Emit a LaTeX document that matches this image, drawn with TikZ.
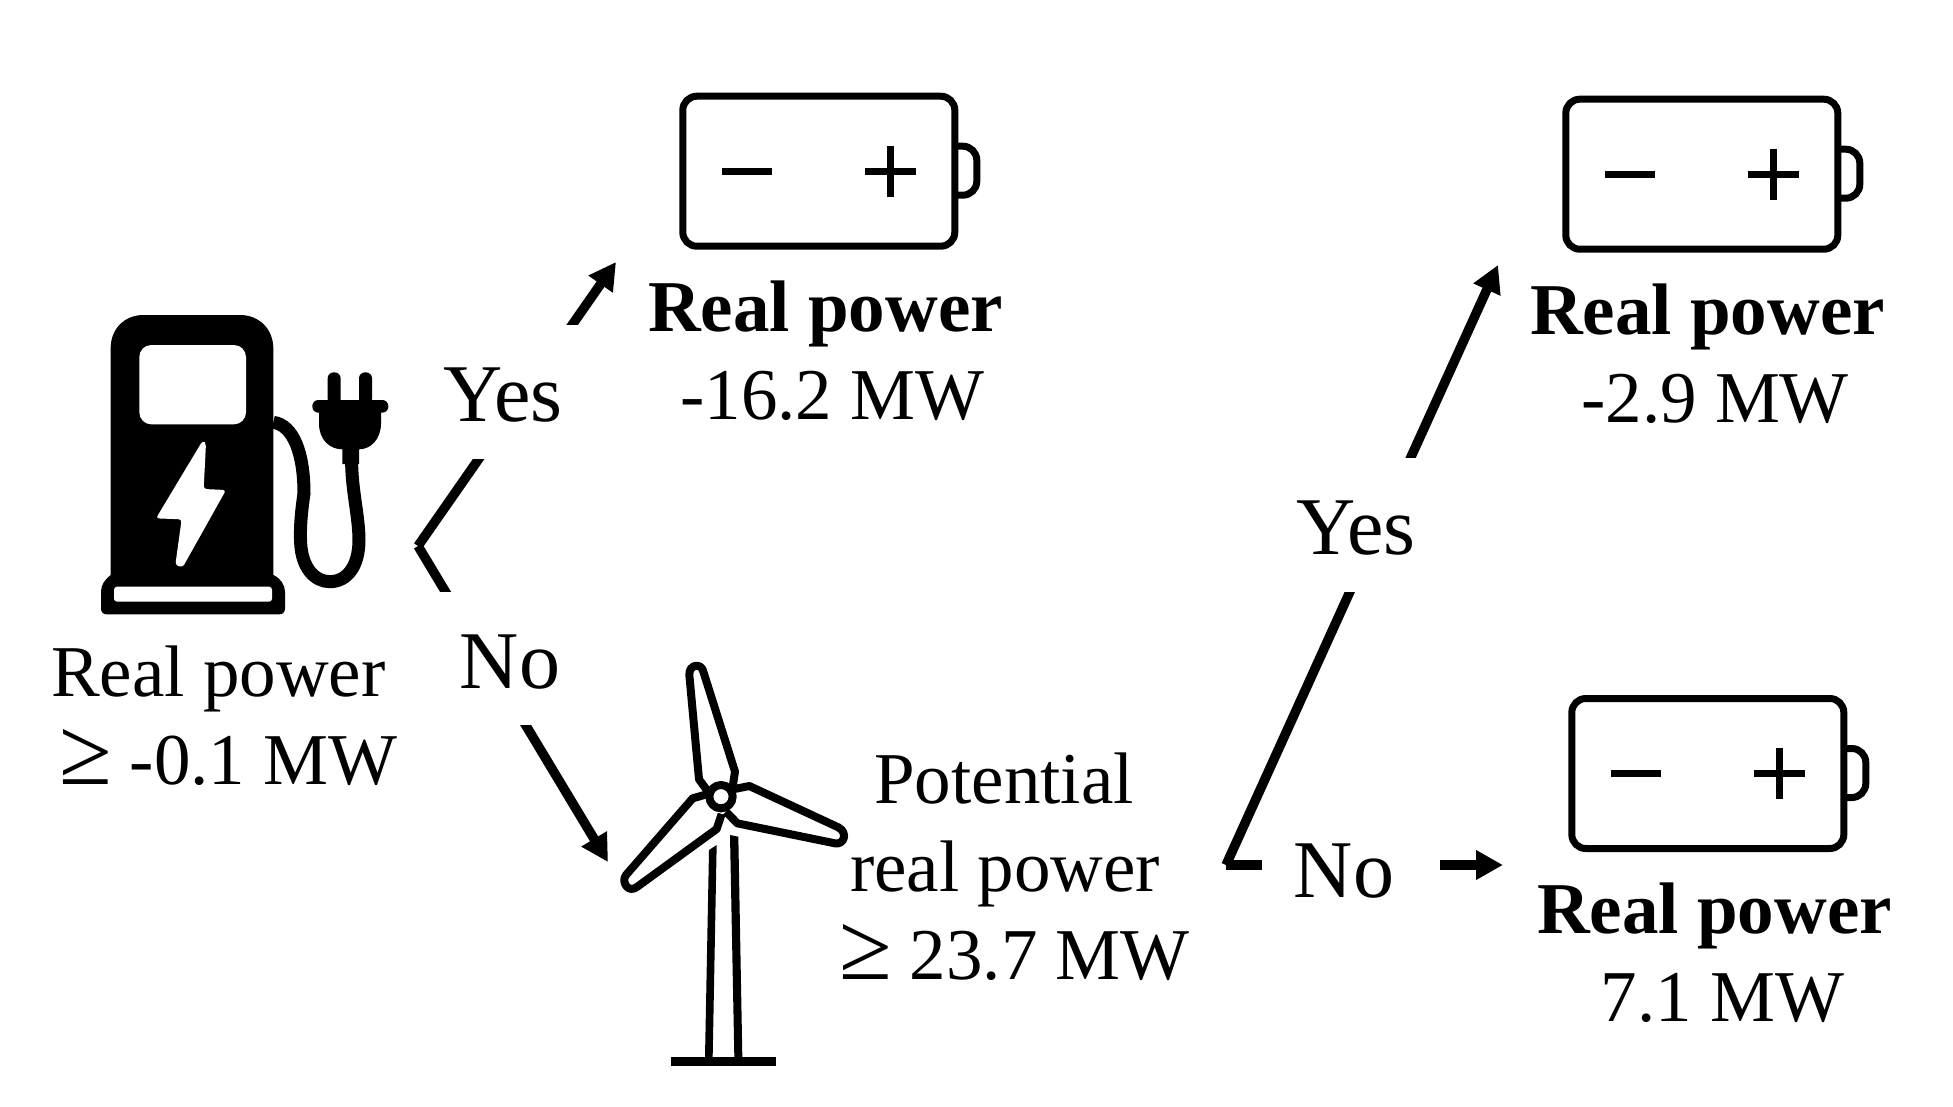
\documentclass[tikz,border=0pt]{standalone}
\usepackage{fontspec}
\setmainfont[Kerning=Off]{Liberation Serif}
\usetikzlibrary{arrows.meta}
\newcommand{\gesign}{{\fontsize{96}{88}\selectfont ≥}\hspace{18pt}}
\tikzset{
  lbl/.style={font=\fontsize{73}{88}\selectfont,inner sep=0pt,anchor=base west,align=left},
  decision/.style={font=\fontsize{82}{88}\selectfont,fill=white,inner sep=0pt,anchor=base},
  conn/.style={line width=9.5pt,line cap=butt},
  connarrow/.style={conn,-{Triangle[length=27pt,width=28pt]}},
  zoomed/.style={x=0.33333pt,y=-0.33333pt},
  battery/.pic={
    \draw[line width=7pt,rounded corners=14pt] (3.5,3.5) rectangle (275.5,153.5);
    \draw[line width=7pt,rounded corners=14pt] (275.5,53.5) -- (297.5,53.5) -- (297.5,102.5) -- (275.5,102.5);
    \draw[line width=7pt] (43,78.5) -- (93,78.5);
    \draw[line width=7pt] (186,78.5) -- (237,78.5);
    \draw[line width=7pt] (211,53) -- (211,104);
  }
}
\begin{document}
\begin{tikzpicture}[x=1pt,y=-1pt]
\useasboundingbox (0,0) rectangle (1953,1106);
\fill[white] (0,0) rectangle (1953,1106);

% connector end points
\coordinate (fork) at (418,546);
\coordinate (tipA) at (616,262);
\coordinate (tipB) at (608,862);
\coordinate (split) at (1226,865);
\coordinate (tipC) at (1498,265);
\coordinate (tipD) at (1503,865);

\draw[connarrow] (fork) -- (tipA);
\draw[connarrow] (fork) -- (tipB);
\draw[connarrow] (split) -- (tipC);
\draw[connarrow] (split) -- (tipD);

% decision labels sit on the connectors
\node[decision,text height=96pt,text depth=38pt,minimum width=156pt] (yesA) at (503,421) {Y\kern-8pt es};
\node[decision,text height=96pt,text depth=37pt,minimum width=180pt] (noA) at (510,688) {No};
\node[decision,text height=96pt,text depth=38pt,minimum width=160pt] (yesB) at (1356,554) {Y\kern-8pt es};
\node[decision,text height=60pt,text depth=10pt,minimum width=178pt] (noB) at (1351,897) {No\hbox to 14pt{}};

% charging station
\begin{scope}[shift={(60,290)},zoomed]
  \fill (152,860) -- (152,175) .. controls (152,115) and (195,75) .. (250,75)
        -- (540,75) .. controls (600,75) and (640,120) .. (640,175) -- (640,855)
        .. controls (662,865) and (675,885) .. (675,905) -- (675,955)
        .. controls (675,967) and (668,973) .. (658,973) -- (140,973)
        .. controls (130,973) and (123,967) .. (123,955) -- (123,905)
        .. controls (123,885) and (135,868) .. (152,855) -- cycle;
  \fill[white,rounded corners=12pt] (238,165) rectangle (558,403);
  \fill[white,rounded corners=3pt] (162,935) -- (162,890) -- (636,890) -- (636,935) -- cycle;
  \fill[white,rounded corners=3pt] (428,452) -- (438,460) -- (431,597) -- (498,600)
        -- (368,832) -- (346,825) -- (365,688) -- (288,685) -- cycle;
  \draw[line width=13pt] (640,397) .. controls (700,405) and (732,490) .. (732,610)
        .. controls (722,680) and (720,720) .. (722,760)
        .. controls (726,835) and (765,875) .. (810,875)
        .. controls (860,875) and (897,830) .. (897,750)
        .. controls (897,680) and (875,600) .. (875,515);
  \fill[rounded corners=6pt] (803,345) -- (803,247) -- (842,247) -- (842,345) -- cycle;
  \fill[rounded corners=6pt] (897,345) -- (897,247) -- (936,247) -- (936,345) -- cycle;
  \fill[rounded corners=6pt] (757,330) rectangle (985,368);
  \fill (777,360) -- (963,360) -- (963,400) .. controls (963,450) and (930,478) .. (897,478)
        -- (897,522) -- (847,522) -- (847,478) .. controls (810,478) and (777,450) .. (777,400) -- cycle;
\end{scope}

% wind turbine
\begin{scope}[shift={(600,640)},zoomed,line width=8pt,line join=round]
  \draw (322,452) -- (297,418) -- (268,105) .. controls (266,72) and (305,68) .. (310,95)
        -- (405,395) -- (398,440);
  \draw (398,448) -- (448,438) -- (715,562) .. controls (745,578) and (732,615) .. (705,610)
        -- (412,550) -- (378,515);
  \draw (330,460) -- (278,475) -- (78,705) .. controls (62,725) and (85,762) .. (112,740)
        -- (350,567) -- (365,522);
  \draw (363,470) circle[radius=35];
  \fill (327,630) -- (350,615) -- (338,1252) -- (315,1252) -- cycle;
  \fill (390,585) -- (415,590) -- (427,1252) -- (403,1252) -- cycle;
  \fill (213,1252) rectangle (528,1278);
\end{scope}

% batteries
\pic (batA) at (679.3,92.7) {battery};
\pic (batB) at (1562.3,95.7) {battery};
\pic (batC) at (1568.3,695) {battery};

% texts
\node[lbl] (station) at (51,784) {Real power\\\hspace*{8pt}\gesign -0.1 MW};
\node[lbl] (turbine) at (839,979) {\hspace*{35pt}Potential\\\hspace*{11pt}real power\\\gesign 23.7 MW};
\node[lbl] (valA) at (648,419) {\textbf{Real power}\\\hspace*{32pt}-16.2 MW};
\node[lbl] (valB) at (1530,422) {\textbf{Real power}\\\hspace*{51pt}-2.9 MW};
\node[lbl] (valC) at (1537,1021) {\textbf{Real power}\\\hspace*{63.5pt}7.1 MW};
\end{tikzpicture}
\end{document}
